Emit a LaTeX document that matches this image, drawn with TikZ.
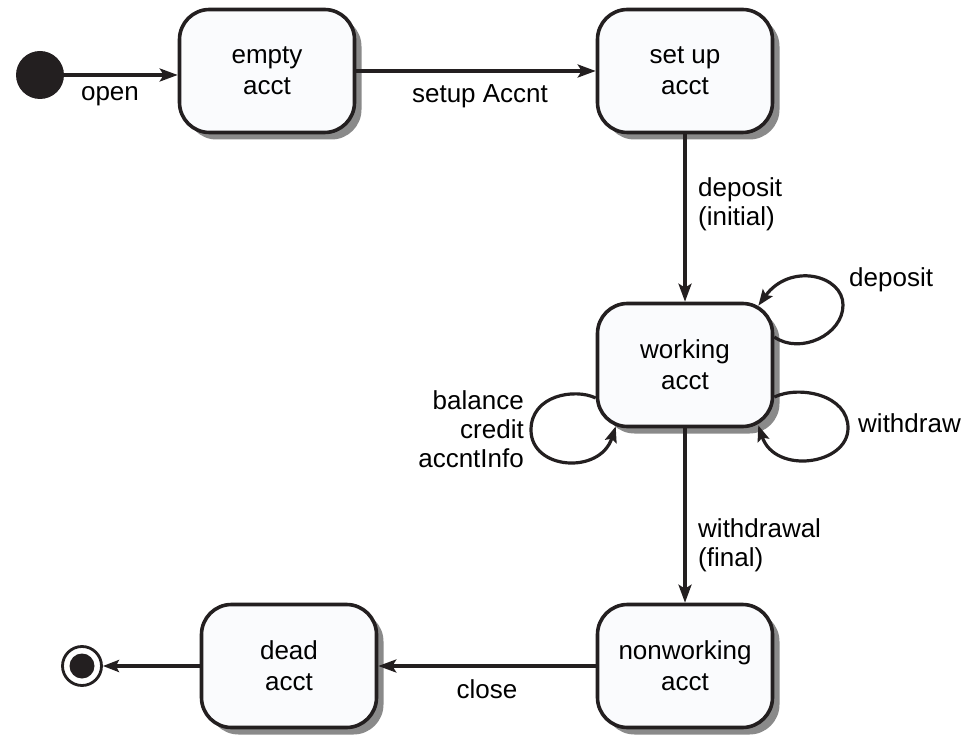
\documentclass[tikz,border=0pt]{standalone}
\usepackage{fontspec}
\setmainfont{Liberation Sans}
\usetikzlibrary{arrows.meta,shadows,calc}
\definecolor{ink}{HTML}{231F20}
\definecolor{boxfill}{HTML}{FAFBFD}
\definecolor{shade}{HTML}{8A8A8A}
\begin{document}
\begin{tikzpicture}[x=1pt,y=-1pt,
  state/.style={draw=ink, line width=3.6pt, fill=boxfill, rounded corners=30pt,
    minimum width=175pt, minimum height=123pt, align=center, inner sep=0pt,
    font=\fontsize{26}{31}\selectfont,
    general shadow={fill=shade, shadow xshift=7pt, shadow yshift=-7pt}},
  lbl/.style={inner sep=0pt, font=\fontsize{26}{29}\selectfont},
  conn/.style={draw=ink, line width=3.2pt, -{Stealth[length=18pt,width=13pt,inset=4pt]}},
  loopc/.style={draw=ink, line width=3.2pt, -{Stealth[length=16pt,width=12pt,inset=3pt]}},
  ]
\useasboundingbox (0,0) rectangle (972,735);

\node[circle, fill=ink, minimum size=48pt, inner sep=0pt] (init) at (40,75) {};
\node[state] (empty) at (267,71) {empty\\acct};
\node[state] (setup) at (685,71) {set up\\acct};
\node[state] (working) at (685,365) {working\\acct};
\node[state] (nonworking) at (685,666) {nonworking\\acct};
\node[state] (dead) at (289,666) {dead\\acct};
\node[circle, draw=ink, fill=white, line width=2.8pt, minimum size=39pt, inner sep=0pt] (final) at (82,666) {};
\node[circle, fill=ink, minimum size=25pt, inner sep=0pt] (finaldot) at (final) {};

\draw[conn] (init.east) -- (init -| empty.west);
\draw[conn] (empty.east) -- (setup.west);
\draw[conn] (setup.south) -- (working.north);
\draw[conn] (working.south) -- (nonworking.north);
\draw[conn] (nonworking.west) -- (dead.east);
\draw[loopc] (dead.west) -- (final.east);

\coordinate (dA) at ($(working.east)+(0,-28)$);
\coordinate (dB) at ($(working.north east)+(-16,4)$);
\coordinate (wA) at ($(working.east)+(0,32)$);
\coordinate (wB) at ($(working.south east)+(-16,-3)$);
\coordinate (bA) at ($(working.west)+(0,33)$);
\coordinate (bB) at ($(working.south west)+(20,-2)$);

\draw[loopc] (dA) .. controls (800,355) and (843,335) .. (843,305)
  .. controls (843,275) and (790,262) .. (dB);
\draw[loopc] (wA) .. controls (800,385) and (848,395) .. (848,428)
  .. controls (848,465) and (775,475) .. (wB);
\draw[loopc] (bA) .. controls (575,388) and (531,395) .. (531,430)
  .. controls (531,470) and (600,475) .. (bB);

\node[lbl, anchor=base] (lopen) at (110,101) {open};
\node[lbl, anchor=base] (lsetup) at (480,103) {setup Accnt};
\node[lbl, anchor=west, align=left] (ldepi) at (698,204) {deposit\\(initial)};
\node[lbl, anchor=west, align=left] (lwdf) at (698,545) {withdrawal\\(final)};
\node[lbl, anchor=base west] (ldep) at (849,287) {deposit};
\node[lbl, anchor=base west] (lwd) at (858,432) {withdraw};
\node[lbl, anchor=east, align=right] (lbal) at (524,429) {balance\\credit\\accntInfo};
\node[lbl, anchor=base] (lclose) at (487,698) {close};
\end{tikzpicture}
\end{document}
